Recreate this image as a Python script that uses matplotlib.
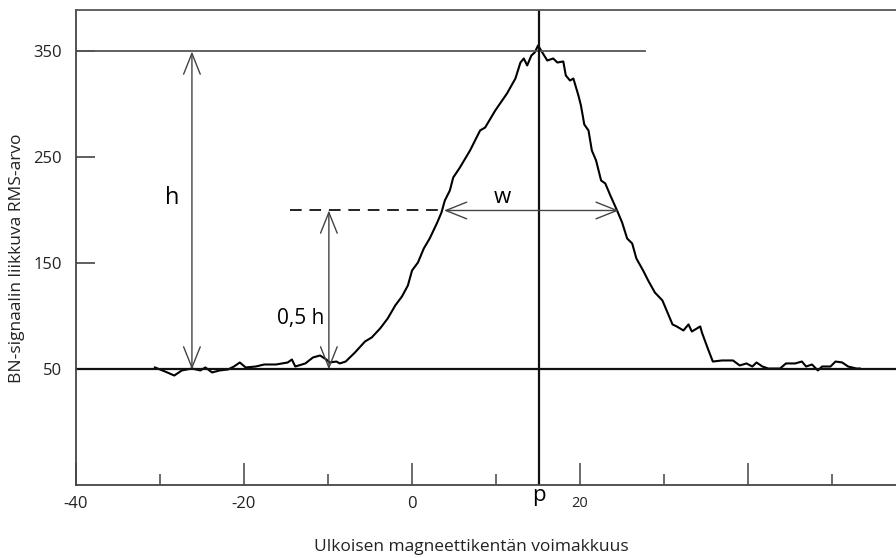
import matplotlib.pyplot as plt
from matplotlib.ticker import FixedLocator

plt.rcParams['font.family'] = ['Open Sans', 'DejaVu Sans']

# BN signal curve
curve_x = [-30.6, -29.4, -28.3, -27.4, -26.2, -25.2, -24.6, -23.8, -22.9, -21.9,
           -21.2, -20.5, -19.8, -18.6, -17.6, -16.2, -14.8, -14.3, -13.9, -12.7,
           -11.8, -10.95, -10.2, -9.8, -9.0, -8.6, -7.9, -6.8, -5.6, -4.8,
           -3.8, -2.9, -2.0, -1.2, -0.5, 0.0, 0.7, 1.4, 2.1, 3.0,
           3.5, 3.9, 4.5, 4.9, 5.7, 6.9, 8.1, 8.7, 9.9, 11.3,
           12.3, 12.9, 13.3, 13.7, 14.2, 14.6, 15.0, 15.5, 16.1, 16.8,
           17.3, 18.0, 18.3, 18.8, 19.2, 19.8, 20.1, 20.5, 21.0, 21.4,
           21.9, 22.5, 23.0, 23.6, 24.4, 25.0, 25.6, 26.2, 26.7, 27.5,
           28.1, 28.9, 29.8, 30.4, 31.0, 31.5, 32.3, 32.9, 33.3, 34.3,
           34.5, 35.2, 35.8, 36.9, 38.2, 39.0, 39.8, 40.5, 41.0, 41.7,
           42.4, 43.8, 44.5, 45.6, 46.4, 46.9, 47.6, 48.3, 48.8, 49.8,
           50.4, 51.2, 51.9, 52.9, 53.3]
curve_y = [51.9, 48.1, 44.3, 49.1, 50.9, 49.1, 51.9, 47.2, 49.1, 50.0,
           52.8, 56.6, 51.9, 52.8, 54.7, 54.7, 56.6, 59.4, 52.8, 55.7,
           61.3, 63.2, 59.4, 56.6, 57.5, 55.7, 57.5, 66.0, 76.4, 80.2,
           88.7, 98.1, 110.4, 118.9, 129.2, 143.4, 150.9, 164.2, 173.6, 188.7,
           198.1, 209.4, 218.9, 231.1, 240.6, 256.6, 275.5, 278.3, 294.3, 310.4,
           324.5, 339.6, 343.4, 336.8, 346.2, 349.1, 355.7, 349.1, 341.5, 343.4,
           339.6, 340.6, 327.4, 322.6, 324.5, 308.5, 299.1, 281.1, 275.5, 256.6,
           247.2, 228.3, 225.5, 214.2, 200.0, 188.7, 173.6, 168.9, 154.7, 143.4,
           134.0, 122.6, 115.1, 103.8, 92.5, 90.6, 86.8, 92.5, 85.8, 90.6,
           84.9, 69.8, 57.5, 58.5, 58.5, 53.8, 55.7, 52.8, 56.6, 52.8,
           50.9, 50.9, 55.7, 55.7, 57.5, 52.8, 54.7, 49.1, 52.8, 52.8,
           57.5, 56.6, 52.8, 50.9, 50.9]

base = 50
peak = 350
half = 200
p_pos = 15.1
h_x = -26.2
half_x = -9.9
w_left, w_right = 3.8, 24.6

fig = plt.figure(figsize=(8.96, 5.58), dpi=100)
ax = fig.add_axes([0.0848, 0.1308, 0.9152, 0.851])
ax.set_xlim(-40, 57.6)
ax.set_ylim(-59, 389)

ax.plot(curve_x, curve_y, color='black', lw=1.5)

ax.axhline(base, color='#111111', lw=1.6)
ax.plot([-40, 27.7], [peak, peak], color='#555555', lw=1.3)
ax.axvline(p_pos, color='#111111', lw=1.6)
ax.plot([-14.5, w_left], [half, half], color='#222222', lw=1.4, ls=(0, (6, 4)))

arrow = dict(arrowstyle='<->,head_length=1.5,head_width=0.6', color='#444444',
             lw=1.0, shrinkA=0, shrinkB=0)
ax.annotate('', xy=(h_x, peak), xytext=(h_x, base), arrowprops=arrow)
ax.annotate('', xy=(half_x, half), xytext=(half_x, base), arrowprops=arrow)
ax.annotate('', xy=(w_left, half), xytext=(w_right, half), arrowprops=arrow)

ax.text(-28.6, 212, 'h', fontsize=17, ha='center', va='center')
ax.text(-13.3, 98, '0,5 h', fontsize=15, ha='center', va='center')
ax.text(10.8, 212, 'w', fontsize=16, ha='center', va='center')

ax.spines['right'].set_visible(False)
ax.spines['top'].set_color('#555555')
ax.spines['left'].set_color('#444444')
ax.spines['bottom'].set_color('#444444')
for s in ['top', 'left', 'bottom']:
    ax.spines[s].set_linewidth(1.3)

ax.set_yticks([50, 150, 250, 350])
ax.set_yticklabels(['50', '150', '250', '350'])
ax.tick_params(axis='y', direction='in', length=14, width=1.2, color='#444444',
               pad=10, labelsize=12, labelcolor='#222222')

ax.xaxis.set_major_locator(FixedLocator([-40, -20, 0, 20, 40]))
ax.xaxis.set_minor_locator(FixedLocator([-30, -10, 10, 30, 50]))
ax.set_xticklabels(['-40', '-20', '0', '20', ''])
ax.tick_params(axis='x', which='major', direction='in', length=16, width=1.1,
               color='#444444', pad=8, labelsize=12, labelcolor='#222222')
ax.tick_params(axis='x', which='minor', direction='in', length=8, width=1.1,
               color='#444444')
ax.get_xticklabels()[3].set_fontsize(10.5)

ax.text(p_pos, -59, 'p', fontsize=16, ha='center', va='top')

fig.text(471 / 896, 1 - 547 / 558, 'Ulkoisen magneettikentän voimakkuus',
         fontsize=12.5, ha='center', va='center', color='#222222')
fig.text(17 / 896, 1 - 258 / 558, 'BN-signaalin liikkuva RMS-arvo',
         fontsize=12.5, rotation=90, ha='center', va='center', color='#222222')

fig.savefig('out.png', dpi=100)
